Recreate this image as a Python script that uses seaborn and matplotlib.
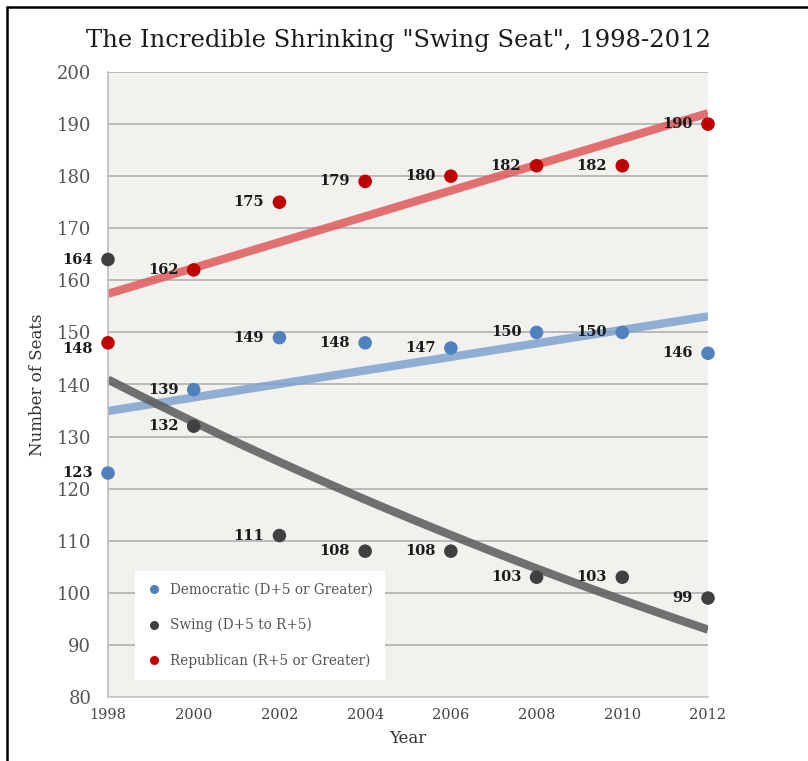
import numpy as np
import pandas as pd
import matplotlib
matplotlib.use("Agg")
import matplotlib.pyplot as plt
from matplotlib.lines import Line2D
import seaborn as sns

years = [1998, 2000, 2002, 2004, 2006, 2008, 2010, 2012]
democratic = [123, 139, 149, 148, 147, 150, 150, 146]
swing = [164, 132, 111, 108, 108, 103, 103, 99]
republican = [148, 162, 175, 179, 180, 182, 182, 190]

series_names = ["Democratic (D+5 or Greater)", "Swing (D+5 to R+5)", "Republican (R+5 or Greater)"]
point_colors = ["#4f81bd", "#404040", "#c00000"]
trend_colors = ["#7fa1d0", "#5a5a5a", "#e05a5a"]
y_ticks = list(range(80, 201, 10))
x_ticks = years

sns.set_theme(style="white")
plt.rcParams["font.family"] = ["DejaVu Serif"]

df = pd.DataFrame({
    "Year": years * 3,
    "Seats": democratic + swing + republican,
    "Group": [series_names[0]] * 8 + [series_names[1]] * 8 + [series_names[2]] * 8,
})

fig = plt.figure(figsize=(8.08, 7.61), dpi=100)
ax = fig.add_axes([108 / 808, 1 - 697 / 761, 600 / 808, 625 / 761])
ax.set_facecolor("#f1f1ee")

# trendlines: linear for the two party groups, exponential for swing seats
xs = np.linspace(1998, 2012, 200)
idx = (np.array(years) - 1998) / 2.0
xi = (xs - 1998) / 2.0
trend_rows = []
for name, vals, kind in zip(series_names, [democratic, swing, republican], ["lin", "exp", "lin"]):
    v = np.array(vals, dtype=float)
    if kind == "lin":
        b, a = np.polyfit(idx, v, 1)
        ys = a + b * xi
    else:
        b, a = np.polyfit(idx, np.log(v), 1)
        ys = np.exp(a + b * xi)
    trend_rows.append(pd.DataFrame({"Year": xs, "Seats": ys, "Group": name}))
trend = pd.concat(trend_rows, ignore_index=True)

sns.lineplot(data=trend, x="Year", y="Seats", hue="Group", hue_order=series_names,
             palette=trend_colors, linewidth=6, alpha=0.85, legend=False, ax=ax,
             solid_capstyle="butt")

sns.scatterplot(data=df, x="Year", y="Seats", hue="Group", hue_order=series_names,
                palette=point_colors, s=95, linewidth=0, ax=ax, clip_on=False, zorder=5)

# value labels to the left of each point
for vals in [democratic, swing, republican]:
    for x, v in zip(years, vals):
        dy = -4.5 if (x == 1998 and v == 148) else 0
        ax.annotate(str(v), (x, v), xytext=(-11, dy), textcoords="offset points",
                    ha="right", va="center", fontsize=10.5, fontweight="bold",
                    color="#1a1a1a", zorder=6, annotation_clip=False)

ax.set_xlim(1998, 2012)
ax.set_ylim(80, 200)
ax.set_xticks(x_ticks)
ax.set_yticks(y_ticks)
ax.set_xticklabels([str(y) for y in x_ticks], fontsize=10.5, color="#444444")
ax.set_yticklabels([str(y) for y in y_ticks], fontsize=13, color="#555555")
ax.tick_params(axis="both", length=0)
ax.tick_params(axis="y", pad=12)
ax.tick_params(axis="x", pad=8)
ax.grid(axis="y", color="#b5b5b5", linewidth=1.3)
ax.grid(axis="x", visible=False)
ax.set_axisbelow(True)
for side in ["top", "right"]:
    ax.spines[side].set_visible(False)
ax.spines["left"].set_color("#bdbdbd")
ax.spines["left"].set_linewidth(1.2)
ax.spines["bottom"].set_color("#c8c8c8")
ax.spines["bottom"].set_linewidth(1.2)

ax.set_xlabel("Year", fontsize=12, color="#333333", labelpad=6)
ax.set_ylabel("Number of Seats", fontsize=12, color="#333333", labelpad=8)

handles = [Line2D([0], [0], marker="o", linestyle="", markersize=6.5,
                  markerfacecolor=c, markeredgewidth=0) for c in point_colors]
leg = ax.legend(handles, series_names, loc="lower left", bbox_to_anchor=(0.045, 0.027),
                borderaxespad=0, frameon=True, facecolor="white", edgecolor="none",
                framealpha=1, fontsize=9.8, labelspacing=1.55, handletextpad=0.7,
                borderpad=0.9, handlelength=1.0, fancybox=False)
for t in leg.get_texts():
    t.set_color("#555555")

fig.text(398 / 808, 1 - 40 / 761, 'The Incredible Shrinking "Swing Seat", 1998-2012',
         ha="center", va="center", fontsize=17.5, color="#1a1a1a")

# frame lines along the top and left edges
fig.add_artist(Line2D([7 / 808, 1], [1 - 7 / 761, 1 - 7 / 761], color="black",
                      linewidth=1.8, transform=fig.transFigure))
fig.add_artist(Line2D([7 / 808, 7 / 808], [0, 1 - 7 / 761], color="black",
                      linewidth=1.8, transform=fig.transFigure))

fig.savefig("out.png", dpi=100, facecolor="white")
